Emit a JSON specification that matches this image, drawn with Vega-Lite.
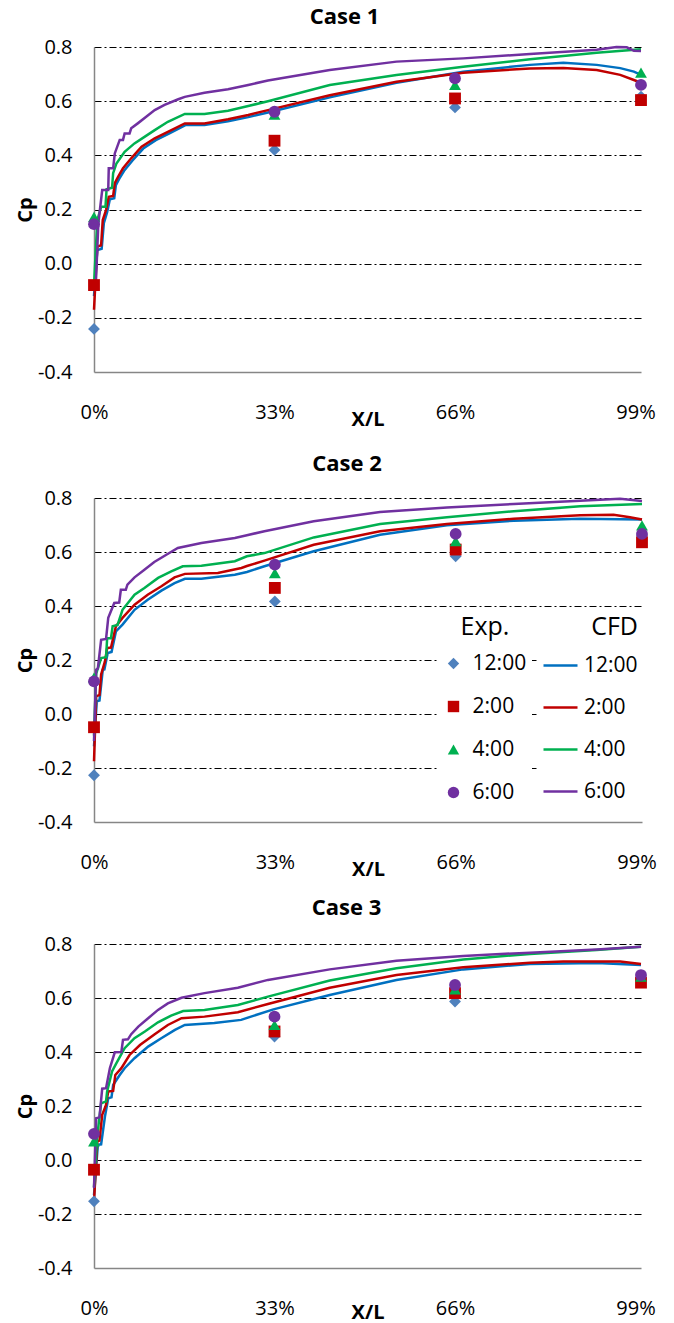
{
"$schema": "https://vega.github.io/schema/vega-lite/v6.json",
"background": "white",
"padding": {"left": 15, "top": 5, "right": 5, "bottom": 2},
"config": {
  "font": "Open Sans",
  "view": {"stroke": null},
  "axis": {"labelColor": "#000", "titleColor": "#000", "labelFont": "Open Sans", "titleFont": "Open Sans"},
  "title": {"font": "Open Sans", "fontSize": 22, "fontWeight": "bold", "color": "#000", "baseline": "alphabetic", "frame": "group", "anchor": "middle"},
  "legend": {"labelFont": "Open Sans", "titleFont": "Open Sans", "labelColor": "#000", "titleColor": "#000", "labelLimit": 200}
},
"datasets": {
"cfd": [
{"case":1,"time":"12:00","x":0,"cp":-0.12},{"case":1,"time":"12:00","x":0.006,"cp":0.05},{"case":1,"time":"12:00","x":0.014,"cp":0.055},{"case":1,"time":"12:00","x":0.018,"cp":0.15},{"case":1,"time":"12:00","x":0.024,"cp":0.19},{"case":1,"time":"12:00","x":0.029,"cp":0.238},{"case":1,"time":"12:00","x":0.037,"cp":0.242},{"case":1,"time":"12:00","x":0.04,"cp":0.29},{"case":1,"time":"12:00","x":0.046,"cp":0.313},{"case":1,"time":"12:00","x":0.055,"cp":0.343},{"case":1,"time":"12:00","x":0.07,"cp":0.38},{"case":1,"time":"12:00","x":0.09,"cp":0.425},{"case":1,"time":"12:00","x":0.113,"cp":0.456},{"case":1,"time":"12:00","x":0.137,"cp":0.48},{"case":1,"time":"12:00","x":0.168,"cp":0.512},{"case":1,"time":"12:00","x":0.202,"cp":0.512},{"case":1,"time":"12:00","x":0.245,"cp":0.526},{"case":1,"time":"12:00","x":0.282,"cp":0.541},{"case":1,"time":"12:00","x":0.318,"cp":0.558},{"case":1,"time":"12:00","x":0.431,"cp":0.614},{"case":1,"time":"12:00","x":0.553,"cp":0.668},{"case":1,"time":"12:00","x":0.675,"cp":0.709},{"case":1,"time":"12:00","x":0.797,"cp":0.734},{"case":1,"time":"12:00","x":0.858,"cp":0.742},{"case":1,"time":"12:00","x":0.919,"cp":0.734},{"case":1,"time":"12:00","x":0.962,"cp":0.722},{"case":1,"time":"12:00","x":0.987,"cp":0.709},{"case":1,"time":"12:00","x":1.0,"cp":0.697},
{"case":1,"time":"2:00","x":0,"cp":-0.17},{"case":1,"time":"2:00","x":0.006,"cp":0.063},{"case":1,"time":"2:00","x":0.013,"cp":0.068},{"case":1,"time":"2:00","x":0.016,"cp":0.161},{"case":1,"time":"2:00","x":0.022,"cp":0.198},{"case":1,"time":"2:00","x":0.027,"cp":0.247},{"case":1,"time":"2:00","x":0.035,"cp":0.25},{"case":1,"time":"2:00","x":0.038,"cp":0.297},{"case":1,"time":"2:00","x":0.044,"cp":0.321},{"case":1,"time":"2:00","x":0.053,"cp":0.352},{"case":1,"time":"2:00","x":0.068,"cp":0.389},{"case":1,"time":"2:00","x":0.087,"cp":0.432},{"case":1,"time":"2:00","x":0.111,"cp":0.463},{"case":1,"time":"2:00","x":0.135,"cp":0.487},{"case":1,"time":"2:00","x":0.166,"cp":0.518},{"case":1,"time":"2:00","x":0.202,"cp":0.518},{"case":1,"time":"2:00","x":0.245,"cp":0.533},{"case":1,"time":"2:00","x":0.282,"cp":0.549},{"case":1,"time":"2:00","x":0.318,"cp":0.567},{"case":1,"time":"2:00","x":0.431,"cp":0.622},{"case":1,"time":"2:00","x":0.553,"cp":0.672},{"case":1,"time":"2:00","x":0.675,"cp":0.705},{"case":1,"time":"2:00","x":0.797,"cp":0.721},{"case":1,"time":"2:00","x":0.858,"cp":0.722},{"case":1,"time":"2:00","x":0.919,"cp":0.715},{"case":1,"time":"2:00","x":0.962,"cp":0.697},{"case":1,"time":"2:00","x":0.987,"cp":0.678},{"case":1,"time":"2:00","x":1.0,"cp":0.668},
{"case":1,"time":"4:00","x":0,"cp":-0.08},{"case":1,"time":"4:00","x":0.006,"cp":0.16},{"case":1,"time":"4:00","x":0.013,"cp":0.21},{"case":1,"time":"4:00","x":0.021,"cp":0.21},{"case":1,"time":"4:00","x":0.023,"cp":0.275},{"case":1,"time":"4:00","x":0.033,"cp":0.28},{"case":1,"time":"4:00","x":0.035,"cp":0.334},{"case":1,"time":"4:00","x":0.041,"cp":0.37},{"case":1,"time":"4:00","x":0.056,"cp":0.413},{"case":1,"time":"4:00","x":0.074,"cp":0.444},{"case":1,"time":"4:00","x":0.093,"cp":0.469},{"case":1,"time":"4:00","x":0.111,"cp":0.493},{"case":1,"time":"4:00","x":0.135,"cp":0.524},{"case":1,"time":"4:00","x":0.166,"cp":0.553},{"case":1,"time":"4:00","x":0.202,"cp":0.553},{"case":1,"time":"4:00","x":0.245,"cp":0.565},{"case":1,"time":"4:00","x":0.282,"cp":0.582},{"case":1,"time":"4:00","x":0.318,"cp":0.6},{"case":1,"time":"4:00","x":0.431,"cp":0.66},{"case":1,"time":"4:00","x":0.553,"cp":0.697},{"case":1,"time":"4:00","x":0.675,"cp":0.727},{"case":1,"time":"4:00","x":0.797,"cp":0.755},{"case":1,"time":"4:00","x":0.919,"cp":0.779},{"case":1,"time":"4:00","x":1.0,"cp":0.792},
{"case":1,"time":"6:00","x":0,"cp":-0.1},{"case":1,"time":"6:00","x":0.003,"cp":-0.09},{"case":1,"time":"6:00","x":0.008,"cp":0.15},{"case":1,"time":"6:00","x":0.015,"cp":0.272},{"case":1,"time":"6:00","x":0.026,"cp":0.272},{"case":1,"time":"6:00","x":0.027,"cp":0.352},{"case":1,"time":"6:00","x":0.035,"cp":0.352},{"case":1,"time":"6:00","x":0.038,"cp":0.407},{"case":1,"time":"6:00","x":0.047,"cp":0.457},{"case":1,"time":"6:00","x":0.053,"cp":0.457},{"case":1,"time":"6:00","x":0.056,"cp":0.481},{"case":1,"time":"6:00","x":0.065,"cp":0.481},{"case":1,"time":"6:00","x":0.068,"cp":0.5},{"case":1,"time":"6:00","x":0.08,"cp":0.518},{"case":1,"time":"6:00","x":0.096,"cp":0.543},{"case":1,"time":"6:00","x":0.111,"cp":0.567},{"case":1,"time":"6:00","x":0.129,"cp":0.586},{"case":1,"time":"6:00","x":0.154,"cp":0.607},{"case":1,"time":"6:00","x":0.166,"cp":0.616},{"case":1,"time":"6:00","x":0.202,"cp":0.631},{"case":1,"time":"6:00","x":0.245,"cp":0.644},{"case":1,"time":"6:00","x":0.282,"cp":0.66},{"case":1,"time":"6:00","x":0.318,"cp":0.676},{"case":1,"time":"6:00","x":0.431,"cp":0.715},{"case":1,"time":"6:00","x":0.553,"cp":0.746},{"case":1,"time":"6:00","x":0.675,"cp":0.758},{"case":1,"time":"6:00","x":0.797,"cp":0.774},{"case":1,"time":"6:00","x":0.919,"cp":0.79},{"case":1,"time":"6:00","x":0.955,"cp":0.8},{"case":1,"time":"6:00","x":0.974,"cp":0.799},{"case":1,"time":"6:00","x":0.987,"cp":0.786},{"case":1,"time":"6:00","x":1.0,"cp":0.785},
{"case":2,"time":"12:00","x":0,"cp":-0.12},{"case":2,"time":"12:00","x":0.005,"cp":0.047},{"case":2,"time":"12:00","x":0.01,"cp":0.05},{"case":2,"time":"12:00","x":0.016,"cp":0.164},{"case":2,"time":"12:00","x":0.019,"cp":0.165},{"case":2,"time":"12:00","x":0.025,"cp":0.226},{"case":2,"time":"12:00","x":0.032,"cp":0.23},{"case":2,"time":"12:00","x":0.04,"cp":0.306},{"case":2,"time":"12:00","x":0.052,"cp":0.331},{"case":2,"time":"12:00","x":0.074,"cp":0.386},{"case":2,"time":"12:00","x":0.098,"cp":0.423},{"case":2,"time":"12:00","x":0.123,"cp":0.457},{"case":2,"time":"12:00","x":0.147,"cp":0.485},{"case":2,"time":"12:00","x":0.166,"cp":0.501},{"case":2,"time":"12:00","x":0.196,"cp":0.501},{"case":2,"time":"12:00","x":0.257,"cp":0.516},{"case":2,"time":"12:00","x":0.279,"cp":0.526},{"case":2,"time":"12:00","x":0.311,"cp":0.547},{"case":2,"time":"12:00","x":0.401,"cp":0.603},{"case":2,"time":"12:00","x":0.522,"cp":0.664},{"case":2,"time":"12:00","x":0.644,"cp":0.699},{"case":2,"time":"12:00","x":0.766,"cp":0.716},{"case":2,"time":"12:00","x":0.887,"cp":0.723},{"case":2,"time":"12:00","x":1.0,"cp":0.72},
{"case":2,"time":"2:00","x":0,"cp":-0.175},{"case":2,"time":"2:00","x":0.004,"cp":0.066},{"case":2,"time":"2:00","x":0.01,"cp":0.07},{"case":2,"time":"2:00","x":0.013,"cp":0.146},{"case":2,"time":"2:00","x":0.02,"cp":0.195},{"case":2,"time":"2:00","x":0.024,"cp":0.244},{"case":2,"time":"2:00","x":0.031,"cp":0.246},{"case":2,"time":"2:00","x":0.04,"cp":0.325},{"case":2,"time":"2:00","x":0.052,"cp":0.356},{"case":2,"time":"2:00","x":0.074,"cp":0.405},{"case":2,"time":"2:00","x":0.098,"cp":0.442},{"case":2,"time":"2:00","x":0.123,"cp":0.473},{"case":2,"time":"2:00","x":0.147,"cp":0.506},{"case":2,"time":"2:00","x":0.166,"cp":0.519},{"case":2,"time":"2:00","x":0.226,"cp":0.522},{"case":2,"time":"2:00","x":0.269,"cp":0.541},{"case":2,"time":"2:00","x":0.279,"cp":0.548},{"case":2,"time":"2:00","x":0.311,"cp":0.568},{"case":2,"time":"2:00","x":0.401,"cp":0.627},{"case":2,"time":"2:00","x":0.522,"cp":0.677},{"case":2,"time":"2:00","x":0.644,"cp":0.704},{"case":2,"time":"2:00","x":0.766,"cp":0.723},{"case":2,"time":"2:00","x":0.887,"cp":0.736},{"case":2,"time":"2:00","x":0.948,"cp":0.738},{"case":2,"time":"2:00","x":0.978,"cp":0.729},{"case":2,"time":"2:00","x":1.0,"cp":0.72},
{"case":2,"time":"4:00","x":0,"cp":-0.08},{"case":2,"time":"4:00","x":0.004,"cp":0.15},{"case":2,"time":"4:00","x":0.013,"cp":0.207},{"case":2,"time":"4:00","x":0.022,"cp":0.21},{"case":2,"time":"4:00","x":0.024,"cp":0.281},{"case":2,"time":"4:00","x":0.031,"cp":0.281},{"case":2,"time":"4:00","x":0.034,"cp":0.325},{"case":2,"time":"4:00","x":0.043,"cp":0.33},{"case":2,"time":"4:00","x":0.052,"cp":0.386},{"case":2,"time":"4:00","x":0.074,"cp":0.442},{"case":2,"time":"4:00","x":0.092,"cp":0.467},{"case":2,"time":"4:00","x":0.117,"cp":0.504},{"case":2,"time":"4:00","x":0.141,"cp":0.528},{"case":2,"time":"4:00","x":0.162,"cp":0.547},{"case":2,"time":"4:00","x":0.196,"cp":0.549},{"case":2,"time":"4:00","x":0.257,"cp":0.566},{"case":2,"time":"4:00","x":0.279,"cp":0.584},{"case":2,"time":"4:00","x":0.311,"cp":0.596},{"case":2,"time":"4:00","x":0.401,"cp":0.654},{"case":2,"time":"4:00","x":0.522,"cp":0.704},{"case":2,"time":"4:00","x":0.644,"cp":0.729},{"case":2,"time":"4:00","x":0.766,"cp":0.751},{"case":2,"time":"4:00","x":0.887,"cp":0.769},{"case":2,"time":"4:00","x":1.0,"cp":0.778},
{"case":2,"time":"6:00","x":0,"cp":-0.1},{"case":2,"time":"6:00","x":0.004,"cp":0.164},{"case":2,"time":"6:00","x":0.007,"cp":0.168},{"case":2,"time":"6:00","x":0.013,"cp":0.275},{"case":2,"time":"6:00","x":0.022,"cp":0.278},{"case":2,"time":"6:00","x":0.026,"cp":0.356},{"case":2,"time":"6:00","x":0.037,"cp":0.411},{"case":2,"time":"6:00","x":0.046,"cp":0.413},{"case":2,"time":"6:00","x":0.049,"cp":0.46},{"case":2,"time":"6:00","x":0.058,"cp":0.46},{"case":2,"time":"6:00","x":0.061,"cp":0.479},{"case":2,"time":"6:00","x":0.074,"cp":0.506},{"case":2,"time":"6:00","x":0.092,"cp":0.534},{"case":2,"time":"6:00","x":0.11,"cp":0.563},{"case":2,"time":"6:00","x":0.132,"cp":0.59},{"case":2,"time":"6:00","x":0.153,"cp":0.615},{"case":2,"time":"6:00","x":0.196,"cp":0.633},{"case":2,"time":"6:00","x":0.257,"cp":0.652},{"case":2,"time":"6:00","x":0.279,"cp":0.662},{"case":2,"time":"6:00","x":0.311,"cp":0.677},{"case":2,"time":"6:00","x":0.401,"cp":0.714},{"case":2,"time":"6:00","x":0.522,"cp":0.748},{"case":2,"time":"6:00","x":0.644,"cp":0.765},{"case":2,"time":"6:00","x":0.766,"cp":0.778},{"case":2,"time":"6:00","x":0.887,"cp":0.79},{"case":2,"time":"6:00","x":0.96,"cp":0.797},{"case":2,"time":"6:00","x":1.0,"cp":0.789},
{"case":3,"time":"12:00","x":0,"cp":-0.13},{"case":3,"time":"12:00","x":0.007,"cp":0.056},{"case":3,"time":"12:00","x":0.013,"cp":0.058},{"case":3,"time":"12:00","x":0.02,"cp":0.161},{"case":3,"time":"12:00","x":0.026,"cp":0.229},{"case":3,"time":"12:00","x":0.032,"cp":0.232},{"case":3,"time":"12:00","x":0.035,"cp":0.278},{"case":3,"time":"12:00","x":0.047,"cp":0.315},{"case":3,"time":"12:00","x":0.056,"cp":0.34},{"case":3,"time":"12:00","x":0.074,"cp":0.377},{"case":3,"time":"12:00","x":0.099,"cp":0.42},{"case":3,"time":"12:00","x":0.123,"cp":0.451},{"case":3,"time":"12:00","x":0.148,"cp":0.482},{"case":3,"time":"12:00","x":0.166,"cp":0.5},{"case":3,"time":"12:00","x":0.22,"cp":0.507},{"case":3,"time":"12:00","x":0.269,"cp":0.519},{"case":3,"time":"12:00","x":0.328,"cp":0.558},{"case":3,"time":"12:00","x":0.431,"cp":0.611},{"case":3,"time":"12:00","x":0.553,"cp":0.667},{"case":3,"time":"12:00","x":0.675,"cp":0.706},{"case":3,"time":"12:00","x":0.797,"cp":0.726},{"case":3,"time":"12:00","x":0.919,"cp":0.73},{"case":3,"time":"12:00","x":1.0,"cp":0.722},
{"case":3,"time":"2:00","x":0,"cp":-0.153},{"case":3,"time":"2:00","x":0.006,"cp":0.069},{"case":3,"time":"2:00","x":0.01,"cp":0.072},{"case":3,"time":"2:00","x":0.015,"cp":0.167},{"case":3,"time":"2:00","x":0.022,"cp":0.204},{"case":3,"time":"2:00","x":0.026,"cp":0.254},{"case":3,"time":"2:00","x":0.035,"cp":0.256},{"case":3,"time":"2:00","x":0.039,"cp":0.315},{"case":3,"time":"2:00","x":0.05,"cp":0.34},{"case":3,"time":"2:00","x":0.065,"cp":0.389},{"case":3,"time":"2:00","x":0.084,"cp":0.426},{"case":3,"time":"2:00","x":0.111,"cp":0.466},{"case":3,"time":"2:00","x":0.135,"cp":0.5},{"case":3,"time":"2:00","x":0.16,"cp":0.525},{"case":3,"time":"2:00","x":0.202,"cp":0.531},{"case":3,"time":"2:00","x":0.263,"cp":0.547},{"case":3,"time":"2:00","x":0.318,"cp":0.578},{"case":3,"time":"2:00","x":0.431,"cp":0.638},{"case":3,"time":"2:00","x":0.553,"cp":0.685},{"case":3,"time":"2:00","x":0.675,"cp":0.714},{"case":3,"time":"2:00","x":0.797,"cp":0.731},{"case":3,"time":"2:00","x":0.858,"cp":0.735},{"case":3,"time":"2:00","x":0.962,"cp":0.735},{"case":3,"time":"2:00","x":1.0,"cp":0.726},
{"case":3,"time":"4:00","x":0,"cp":-0.1},{"case":3,"time":"4:00","x":0.006,"cp":0.09},{"case":3,"time":"4:00","x":0.013,"cp":0.21},{"case":3,"time":"4:00","x":0.022,"cp":0.217},{"case":3,"time":"4:00","x":0.024,"cp":0.254},{"case":3,"time":"4:00","x":0.033,"cp":0.328},{"case":3,"time":"4:00","x":0.041,"cp":0.359},{"case":3,"time":"4:00","x":0.056,"cp":0.414},{"case":3,"time":"4:00","x":0.074,"cp":0.451},{"case":3,"time":"4:00","x":0.093,"cp":0.476},{"case":3,"time":"4:00","x":0.117,"cp":0.51},{"case":3,"time":"4:00","x":0.141,"cp":0.535},{"case":3,"time":"4:00","x":0.163,"cp":0.552},{"case":3,"time":"4:00","x":0.202,"cp":0.556},{"case":3,"time":"4:00","x":0.263,"cp":0.574},{"case":3,"time":"4:00","x":0.318,"cp":0.605},{"case":3,"time":"4:00","x":0.431,"cp":0.665},{"case":3,"time":"4:00","x":0.553,"cp":0.71},{"case":3,"time":"4:00","x":0.675,"cp":0.743},{"case":3,"time":"4:00","x":0.797,"cp":0.763},{"case":3,"time":"4:00","x":0.919,"cp":0.778},{"case":3,"time":"4:00","x":1.0,"cp":0.79},
{"case":3,"time":"6:00","x":0,"cp":-0.104},{"case":3,"time":"6:00","x":0.004,"cp":0.155},{"case":3,"time":"6:00","x":0.01,"cp":0.158},{"case":3,"time":"6:00","x":0.015,"cp":0.264},{"case":3,"time":"6:00","x":0.022,"cp":0.266},{"case":3,"time":"6:00","x":0.029,"cp":0.34},{"case":3,"time":"6:00","x":0.038,"cp":0.399},{"case":3,"time":"6:00","x":0.05,"cp":0.4},{"case":3,"time":"6:00","x":0.053,"cp":0.445},{"case":3,"time":"6:00","x":0.062,"cp":0.447},{"case":3,"time":"6:00","x":0.068,"cp":0.466},{"case":3,"time":"6:00","x":0.081,"cp":0.494},{"case":3,"time":"6:00","x":0.099,"cp":0.525},{"case":3,"time":"6:00","x":0.117,"cp":0.556},{"case":3,"time":"6:00","x":0.135,"cp":0.58},{"case":3,"time":"6:00","x":0.16,"cp":0.601},{"case":3,"time":"6:00","x":0.202,"cp":0.618},{"case":3,"time":"6:00","x":0.263,"cp":0.638},{"case":3,"time":"6:00","x":0.318,"cp":0.667},{"case":3,"time":"6:00","x":0.431,"cp":0.706},{"case":3,"time":"6:00","x":0.553,"cp":0.738},{"case":3,"time":"6:00","x":0.675,"cp":0.756},{"case":3,"time":"6:00","x":0.797,"cp":0.768},{"case":3,"time":"6:00","x":0.919,"cp":0.78},{"case":3,"time":"6:00","x":1.0,"cp":0.79}
],
"exp": [
{"case":1,"hour":"12:00","x":0,"cp":-0.241},{"case":1,"hour":"12:00","x":0.33,"cp":0.42},{"case":1,"hour":"12:00","x":0.66,"cp":0.577},{"case":1,"hour":"12:00","x":1.0,"cp":0.617},
{"case":1,"hour":"2:00","x":0,"cp":-0.079},{"case":1,"hour":"2:00","x":0.33,"cp":0.454},{"case":1,"hour":"2:00","x":0.66,"cp":0.61},{"case":1,"hour":"2:00","x":1.0,"cp":0.604},
{"case":1,"hour":"4:00","x":0,"cp":0.173},{"case":1,"hour":"4:00","x":0.33,"cp":0.55},{"case":1,"hour":"4:00","x":0.66,"cp":0.66},{"case":1,"hour":"4:00","x":1.0,"cp":0.705},
{"case":1,"hour":"6:00","x":0,"cp":0.146},{"case":1,"hour":"6:00","x":0.33,"cp":0.561},{"case":1,"hour":"6:00","x":0.66,"cp":0.684},{"case":1,"hour":"6:00","x":1.0,"cp":0.66},
{"case":2,"hour":"12:00","x":0,"cp":-0.227},{"case":2,"hour":"12:00","x":0.33,"cp":0.417},{"case":2,"hour":"12:00","x":0.66,"cp":0.584},{"case":2,"hour":"12:00","x":1.0,"cp":0.66},
{"case":2,"hour":"2:00","x":0,"cp":-0.049},{"case":2,"hour":"2:00","x":0.33,"cp":0.467},{"case":2,"hour":"2:00","x":0.66,"cp":0.609},{"case":2,"hour":"2:00","x":1.0,"cp":0.636},
{"case":2,"hour":"4:00","x":0,"cp":0.135},{"case":2,"hour":"4:00","x":0.33,"cp":0.522},{"case":2,"hour":"4:00","x":0.66,"cp":0.64},{"case":2,"hour":"4:00","x":1.0,"cp":0.699},
{"case":2,"hour":"6:00","x":0,"cp":0.121},{"case":2,"hour":"6:00","x":0.33,"cp":0.553},{"case":2,"hour":"6:00","x":0.66,"cp":0.667},{"case":2,"hour":"6:00","x":1.0,"cp":0.667},
{"case":3,"hour":"12:00","x":0,"cp":-0.153},{"case":3,"hour":"12:00","x":0.33,"cp":0.457},{"case":3,"hour":"12:00","x":0.66,"cp":0.587},{"case":3,"hour":"12:00","x":1.0,"cp":0.67},
{"case":3,"hour":"2:00","x":0,"cp":-0.036},{"case":3,"hour":"2:00","x":0.33,"cp":0.476},{"case":3,"hour":"2:00","x":0.66,"cp":0.618},{"case":3,"hour":"2:00","x":1.0,"cp":0.657},
{"case":3,"hour":"4:00","x":0,"cp":0.069},{"case":3,"hour":"4:00","x":0.33,"cp":0.5},{"case":3,"hour":"4:00","x":0.66,"cp":0.632},{"case":3,"hour":"4:00","x":1.0,"cp":0.679},
{"case":3,"hour":"6:00","x":0,"cp":0.097},{"case":3,"hour":"6:00","x":0.33,"cp":0.531},{"case":3,"hour":"6:00","x":0.66,"cp":0.648},{"case":3,"hour":"6:00","x":1.0,"cp":0.685}
]
},
"spacing": 23,
"resolve": {"legend": {"fill": "independent", "shape": "independent", "stroke": "independent"}},
"vconcat": [
{
  "width": 547, "height": 325,
  "title": {"text": "Case 1", "offset": 8.5, "dx": -23},
  "encoding": {
    "x": {"field": "x", "type": "quantitative", "scale": {"domain": [0, 1]},
      "axis": {"values": [0, 0.33, 0.66, 0.99], "format": ".0%", "title": "X/L", "grid": false, "ticks": false, "labelPadding": 30, "labelFontSize": 20, "titleFontSize": 20, "titleFontWeight": "bold", "titleY": 53, "titleBaseline": "alphabetic", "domainColor": "#868686", "domainWidth": 1.5, "labelFlush": false, "labelOverlap": false}},
    "y": {"field": "cp", "type": "quantitative", "scale": {"domain": [-0.4, 0.8]},
      "axis": {"values": [-0.4, -0.2, 0, 0.2, 0.4, 0.6, 0.8], "labelExpr": "datum.value < 0 ? '-' + format(-datum.value, '.1f') : format(datum.value, '.1f')", "title": "Cp", "grid": true, "gridColor": "#000", "gridDash": [7, 3, 2, 3], "gridWidth": 1, "gridOpacity": {"condition": {"test": "datum.value < -0.3", "value": 0}, "value": 1}, "ticks": false, "labelPadding": 22, "labelFontSize": 20, "titleFontSize": 20, "titleFontWeight": "bold", "titlePadding": 2, "domainColor": "#868686", "domainWidth": 1.5, "labelFlush": false}}
  },
  "layer": [
    {"data": {"name": "cfd"}, "transform": [{"filter": "datum.case === 1"}],
     "mark": {"type": "line", "strokeWidth": 2.5},
     "encoding": {"stroke": {"field": "time", "type": "nominal", "scale": {"range": ["#0070C0", "#C00000", "#00B050", "#7030A0"]}, "legend": null}}},
    {"data": {"name": "exp"}, "transform": [{"filter": "datum.case === 1"}],
     "mark": {"type": "point", "filled": true, "size": 140, "opacity": 1, "strokeWidth": 0},
     "encoding": {
       "fill": {"field": "hour", "type": "nominal", "scale": {"range": ["#4F81BD", "#C00000", "#00B050", "#7030A0"]}, "legend": null},
       "shape": {"field": "hour", "type": "nominal", "scale": {"range": ["diamond", "square", "triangle-up", "circle"]}, "legend": null}}}
  ]
},
{
  "spacing": 17,
  "resolve": {"legend": {"fill": "independent", "shape": "independent", "stroke": "independent"}},
  "vconcat": [
  {
    "width": 548, "height": 324,
    "title": {"text": "Case 2", "offset": 12.5, "dx": -21},
    "encoding": {
      "x": {"field": "x", "type": "quantitative", "scale": {"domain": [0, 1]},
        "axis": {"values": [0, 0.33, 0.66, 0.99], "format": ".0%", "title": "X/L", "grid": false, "ticks": false, "labelPadding": 30, "labelFontSize": 20, "titleFontSize": 20, "titleFontWeight": "bold", "titleY": 53, "titleBaseline": "alphabetic", "domainColor": "#868686", "domainWidth": 1.5, "labelFlush": false, "labelOverlap": false}},
      "y": {"field": "cp", "type": "quantitative", "scale": {"domain": [-0.4, 0.8]},
        "axis": {"values": [-0.4, -0.2, 0, 0.2, 0.4, 0.6, 0.8], "labelExpr": "datum.value < 0 ? '-' + format(-datum.value, '.1f') : format(datum.value, '.1f')", "title": "Cp", "grid": true, "gridColor": "#000", "gridDash": [7, 3, 2, 3], "gridWidth": 1, "gridOpacity": {"condition": {"test": "datum.value < -0.3", "value": 0}, "value": 1}, "ticks": false, "labelPadding": 22, "labelFontSize": 20, "titleFontSize": 20, "titleFontWeight": "bold", "titlePadding": 2, "domainColor": "#868686", "domainWidth": 1.5, "labelFlush": false}}
    },
    "layer": [
      {"data": {"name": "cfd"}, "transform": [{"filter": "datum.case === 2"}],
       "mark": {"type": "line", "strokeWidth": 2.5},
       "encoding": {"stroke": {"field": "time", "type": "nominal", "scale": {"range": ["#0070C0", "#C00000", "#00B050", "#7030A0"]},
         "legend": {"title": "CFD", "orient": "none", "legendX": 443, "legendY": 112, "padding": 5, "fillColor": "white", "titleFontSize": 25, "titleFontWeight": "normal", "titleAnchor": "end", "titlePadding": 7, "labelFontSize": 21, "labelOffset": 5, "symbolType": "stroke", "symbolSize": 1156, "symbolStrokeWidth": 2.5, "rowPadding": 13}}}},
      {"data": {"name": "exp"}, "transform": [{"filter": "datum.case === 2"}],
       "mark": {"type": "point", "filled": true, "size": 140, "opacity": 1, "strokeWidth": 0},
       "encoding": {
         "fill": {"field": "hour", "type": "nominal", "scale": {"range": ["#4F81BD", "#C00000", "#00B050", "#7030A0"]},
           "legend": {"title": "Exp.", "orient": "none", "legendX": 344, "legendY": 112, "padding": 5, "fillColor": "white", "titleFontSize": 25, "titleFontWeight": "normal", "titleAnchor": "middle", "titlePadding": 13, "labelFontSize": 21, "labelOffset": 8.6, "symbolSize": 130, "symbolStrokeWidth": 0, "rowPadding": 21}},
         "shape": {"field": "hour", "type": "nominal", "scale": {"range": ["diamond", "square", "triangle-up", "circle"]},
           "legend": {"title": "Exp.", "orient": "none", "legendX": 344, "legendY": 112, "padding": 5, "fillColor": "white", "titleFontSize": 25, "titleFontWeight": "normal", "titleAnchor": "middle", "titlePadding": 13, "labelFontSize": 21, "labelOffset": 8.6, "symbolSize": 130, "symbolStrokeWidth": 0, "rowPadding": 21}}}}
    ]
  },
  {
    "width": 547, "height": 324,
    "title": {"text": "Case 3", "offset": 14.5, "dx": -21},
    "encoding": {
      "x": {"field": "x", "type": "quantitative", "scale": {"domain": [0, 1]},
        "axis": {"values": [0, 0.33, 0.66, 0.99], "format": ".0%", "title": "X/L", "grid": false, "ticks": false, "labelPadding": 30, "labelFontSize": 20, "titleFontSize": 20, "titleFontWeight": "bold", "titleY": 50, "titleBaseline": "alphabetic", "domainColor": "#868686", "domainWidth": 1.5, "labelFlush": false, "labelOverlap": false}},
      "y": {"field": "cp", "type": "quantitative", "scale": {"domain": [-0.4, 0.8]},
        "axis": {"values": [-0.4, -0.2, 0, 0.2, 0.4, 0.6, 0.8], "labelExpr": "datum.value < 0 ? '-' + format(-datum.value, '.1f') : format(datum.value, '.1f')", "title": "Cp", "grid": true, "gridColor": "#000", "gridDash": [7, 3, 2, 3], "gridWidth": 1, "gridOpacity": {"condition": {"test": "datum.value < -0.3", "value": 0}, "value": 1}, "ticks": false, "labelPadding": 22, "labelFontSize": 20, "titleFontSize": 20, "titleFontWeight": "bold", "titlePadding": 2, "domainColor": "#868686", "domainWidth": 1.5, "labelFlush": false}}
    },
    "layer": [
      {"data": {"name": "cfd"}, "transform": [{"filter": "datum.case === 3"}],
       "mark": {"type": "line", "strokeWidth": 2.5},
       "encoding": {"stroke": {"field": "time", "type": "nominal", "scale": {"range": ["#0070C0", "#C00000", "#00B050", "#7030A0"]}, "legend": null}}},
      {"data": {"name": "exp"}, "transform": [{"filter": "datum.case === 3"}],
       "mark": {"type": "point", "filled": true, "size": 140, "opacity": 1, "strokeWidth": 0},
       "encoding": {
         "fill": {"field": "hour", "type": "nominal", "scale": {"range": ["#4F81BD", "#C00000", "#00B050", "#7030A0"]}, "legend": null},
         "shape": {"field": "hour", "type": "nominal", "scale": {"range": ["diamond", "square", "triangle-up", "circle"]}, "legend": null}}}
    ]
  }
  ]
}
]
}
